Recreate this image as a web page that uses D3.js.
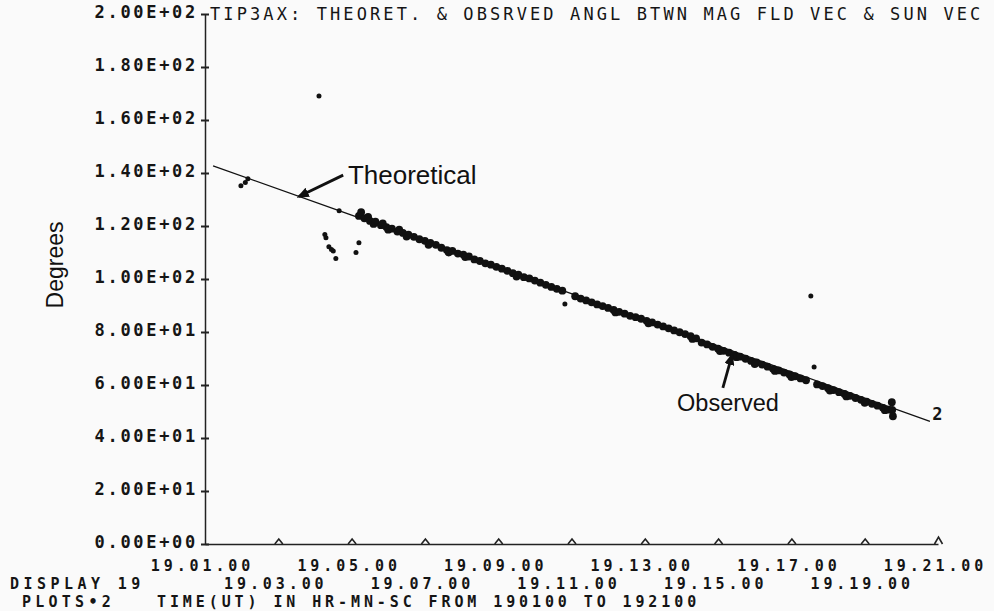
<!DOCTYPE html>
<html>
<head>
<meta charset="utf-8">
<script src="https://cdn.jsdelivr.net/npm/d3@7"></script>
<style>
  body { margin: 0; background: #fafafa; }
  svg { display: block; }
  .plot-font { font-family: "DejaVu Sans Mono", monospace; font-size: 17px; fill: #151515; }
  .foot-font { font-family: "DejaVu Sans Mono", monospace; font-size: 15px; font-weight: bold; fill: #151515; }
  .note-font { font-family: "Liberation Sans", Arial, sans-serif; fill: #111; }
</style>
</head>
<body>
<svg id="chart" width="994" height="611"></svg>
<script>
// Tick values (minutes after 19:00 UT) and their labels
const xTicks = [1, 3, 5, 7, 9, 11, 13, 15, 17, 19, 21];
const xTickLabels = ["19.01.00", "19.03.00", "19.05.00", "19.07.00", "19.09.00", "19.11.00",
                     "19.13.00", "19.15.00", "19.17.00", "19.19.00", "19.21.00"];
const yTicks = [0, 20, 40, 60, 80, 100, 120, 140, 160, 180, 200];
const yTickLabels = ["0.00E+00", "2.00E+01", "4.00E+01", "6.00E+01", "8.00E+01", "1.00E+02",
                     "1.20E+02", "1.40E+02", "1.60E+02", "1.80E+02", "2.00E+02"];

// Theoretical angle [minute, degrees]
const theoretical = [[1.22, 142.7], [5.0, 124.1], [10.0, 99.4], [15.0, 74.8], [20.78, 46.3]];

// Observed angle, dense run of points [minute, degrees]
const observedBand = [
  [5.20, 123.8], [5.26, 125.2], [5.35, 122.9], [5.45, 123.4], [5.50, 121.9], [5.60, 120.8],
  [5.65, 121.6], [5.80, 120.3], [5.85, 121.0], [5.95, 119.6], [6.00, 118.6], [6.10, 119.0],
  [6.25, 117.9], [6.30, 118.6], [6.40, 117.4], [6.50, 116.0], [6.55, 116.7], [6.70, 115.9],
  [6.85, 115.0], [7.00, 114.4], [7.10, 112.9], [7.15, 113.6], [7.30, 112.9], [7.45, 111.8],
  [7.60, 110.9], [7.65, 110.0], [7.75, 110.6], [7.90, 109.6], [8.05, 109.2], [8.10, 108.3],
  [8.20, 108.5], [8.35, 107.4], [8.50, 106.8], [8.65, 105.9], [8.80, 105.4], [8.95, 104.6],
  [9.10, 103.9], [9.25, 103.1], [9.40, 102.2], [9.50, 100.9], [9.55, 101.6], [9.70, 100.7],
  [9.85, 100.2], [10.00, 99.4], [10.15, 98.6], [10.30, 97.8], [10.45, 97.0], [10.60, 96.3],
  [10.75, 95.6],
  [11.10, 93.5], [11.25, 92.6], [11.40, 91.9], [11.55, 91.2], [11.70, 90.4], [11.85, 89.8],
  [12.00, 89.1], [12.15, 88.3], [12.20, 87.4], [12.30, 87.6], [12.45, 86.9], [12.60, 86.1],
  [12.75, 85.6], [12.90, 85.0], [13.05, 84.2], [13.10, 83.3], [13.20, 83.6], [13.35, 82.8],
  [13.50, 82.1], [13.65, 81.4], [13.80, 80.6], [13.95, 79.9], [14.10, 79.2], [14.25, 78.4],
  [14.30, 77.4], [14.40, 77.6], [14.55, 76.0], [14.70, 75.3], [14.85, 74.4], [15.00, 73.7],
  [15.05, 72.8], [15.15, 72.9], [15.30, 72.2], [15.45, 71.4], [15.50, 70.5], [15.60, 70.7],
  [15.75, 69.9], [15.90, 69.1], [16.00, 67.9], [16.05, 68.5], [16.20, 67.7], [16.35, 66.9],
  [16.50, 66.1], [16.55, 65.3], [16.65, 65.5], [16.80, 64.7], [16.95, 64.0], [17.00, 63.0],
  [17.10, 63.3], [17.25, 62.5], [17.40, 61.8],
  [17.70, 60.2], [17.85, 59.6], [18.00, 58.8], [18.05, 57.9], [18.15, 58.1], [18.30, 57.3],
  [18.45, 56.6], [18.50, 55.7], [18.60, 55.9], [18.75, 55.1], [18.90, 54.4], [19.00, 53.3],
  [19.05, 53.7], [19.20, 52.9], [19.35, 52.2], [19.50, 51.4], [19.55, 50.5], [19.65, 50.7],
  [19.74, 53.5], [19.75, 50.6], [19.77, 48.2]
];

// Observed angle, scattered points
const observedStray = [
  [1.98, 135.2], [2.10, 136.4], [2.17, 137.8], [4.11, 169.1], [4.66, 125.8],
  [4.27, 116.8], [4.30, 115.6], [4.38, 112.2], [4.45, 111.1], [4.50, 110.6], [4.57, 107.7],
  [5.20, 113.7], [5.12, 110.0], [10.82, 90.6], [17.53, 93.6], [17.62, 66.8]
];

const svg = d3.select("#chart");

// Scales
const x = d3.scaleLinear().domain([1, 21]).range([205, 938]);
const y = d3.scaleLinear().domain([0, 200]).range([544, 14]);

// Arrowhead marker
function createArrowhead(markerId, color) {
    svg.append("defs").append("marker")
        .attr("id", markerId)
        .attr("viewBox", "0 -5 10 10")
        .attr("preserveAspectRatio", "none")
        .attr("refX", 8)
        .attr("refY", 0)
        .attr("markerWidth", 4.4)
        .attr("markerHeight", 3.6)
        .attr("orient", "auto")
        .append("path")
        .attr("d", "M0,-5L10,0L0,5Z")
        .attr("fill", color);
}
createArrowhead("arrowhead-black", "#111");

// Y axis
const yAxis = svg.append("g")
    .attr("transform", `translate(${x(1)},0)`)
    .call(d3.axisLeft(y).tickValues(yTicks).tickFormat((d, i) => yTickLabels[i])
        .tickSize(0).tickPadding(10));
yAxis.select(".domain").attr("stroke", "#222").attr("stroke-width", 1.5);
yAxis.selectAll(".tick line").remove();
yAxis.selectAll(".tick").append("line")
    .attr("x1", -4).attr("x2", 4)
    .attr("stroke", "#222").attr("stroke-width", 2);
yAxis.selectAll(".tick text")
    .attr("class", "plot-font")
    .attr("font-weight", "bold")
    .attr("letter-spacing", 2.7)
    .attr("dy", 3)
    .attr("x", -7);

// X axis (labels alternate between two rows)
const xAxis = svg.append("g")
    .attr("transform", `translate(0,${y(0)})`)
    .call(d3.axisBottom(x).tickValues(xTicks).tickFormat((d, i) => xTickLabels[i])
        .tickSize(0).tickPadding(0));
xAxis.select(".domain").attr("stroke", "#222").attr("stroke-width", 1.5);
xAxis.selectAll(".tick")
    .filter(d => d !== 1)
    .append("path")
    .attr("d", d => d === 21 ? "M-4,0L0,-7L4,0" : "M-4,0L0,-5L4,0")
    .attr("fill", "none")
    .attr("stroke", "#222")
    .attr("stroke-width", 1.6);
xAxis.selectAll(".tick text")
    .attr("class", "foot-font")
    .attr("letter-spacing", 3.9)
    .attr("dy", 0)
    .attr("x", -3)
    .attr("y", (d, i) => i % 2 === 0 ? 27 : 45);

// Observed points
svg.append("g").selectAll("circle.band")
    .data(observedBand)
    .enter()
    .append("circle")
    .attr("class", "band")
    .attr("cx", d => x(d[0]))
    .attr("cy", d => y(d[1]))
    .attr("r", 3.9)
    .attr("fill", "#111");

svg.append("g").selectAll("circle.stray")
    .data(observedStray)
    .enter()
    .append("circle")
    .attr("class", "stray")
    .attr("cx", d => x(d[0]))
    .attr("cy", d => y(d[1]))
    .attr("r", 2.5)
    .attr("fill", "#111");

// Theoretical line
svg.append("path")
    .datum(theoretical)
    .attr("d", d3.line().x(d => x(d[0])).y(d => y(d[1])))
    .attr("fill", "none")
    .attr("stroke", "#111")
    .attr("stroke-width", 1.3);

// Curve number
svg.append("text")
    .attr("class", "plot-font")
    .attr("x", x(20.84)).attr("y", y(46.8))
    .attr("font-weight", "bold")
    .attr("font-size", 19)
    .text("2");

// Annotations
svg.append("line")
    .attr("x1", x(4.77)).attr("y1", y(139.2))
    .attr("x2", x(3.56)).attr("y2", y(131.1))
    .attr("stroke", "#111").attr("stroke-width", 2.8)
    .attr("marker-end", "url(#arrowhead-black)");
svg.append("text")
    .attr("class", "note-font")
    .attr("x", x(4.90)).attr("y", y(135.8))
    .attr("font-size", 26)
    .text("Theoretical");

svg.append("line")
    .attr("x1", x(15.13)).attr("y1", y(58.9))
    .attr("x2", x(15.38)).attr("y2", y(71.3))
    .attr("stroke", "#111").attr("stroke-width", 2.8)
    .attr("marker-end", "url(#arrowhead-black)");
svg.append("text")
    .attr("class", "note-font")
    .attr("x", x(13.88)).attr("y", y(50.2))
    .attr("font-size", 23.5)
    .text("Observed");

svg.append("text")
    .attr("class", "note-font")
    .attr("transform", "translate(63,265) rotate(-90)")
    .attr("text-anchor", "middle")
    .attr("font-size", 23)
    .text("Degrees");

// Title and footer
svg.append("text")
    .attr("class", "plot-font")
    .attr("x", 210).attr("y", 20)
    .attr("letter-spacing", 3.1)
    .text("TIP3AX: THEORET. & OBSRVED ANGL BTWN MAG FLD VEC & SUN VEC");

svg.append("text")
    .attr("class", "foot-font")
    .attr("x", 10).attr("y", 589)
    .attr("letter-spacing", 4.45)
    .text("DISPLAY 19");
svg.append("text")
    .attr("class", "foot-font")
    .attr("x", 22).attr("y", 607)
    .attr("letter-spacing", 4.25)
    .text("PLOTS•2");
svg.append("text")
    .attr("class", "foot-font")
    .attr("x", 157).attr("y", 607)
    .attr("letter-spacing", 3.9)
    .text("TIME(UT) IN HR-MN-SC FROM 190100 TO 192100");
</script>
</body>
</html>
